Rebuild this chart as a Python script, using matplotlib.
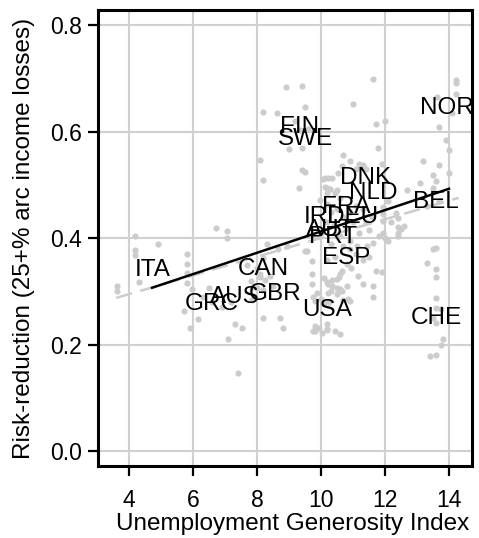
import matplotlib
matplotlib.use("Agg")
import matplotlib.pyplot as plt

plt.rcParams['font.family'] = ['Liberation Sans', 'DejaVu Sans']

# country means (label positions)
countries = ['NOR', 'FIN', 'SWE', 'DNK', 'NLD', 'BEL', 'FRA', 'DEU', 'IRL', 'AUT',
             'PRT', 'ESP', 'ITA', 'CAN', 'GBR', 'AUS', 'GRC', 'USA', 'CHE']
country_x = [13.94, 9.34, 9.5, 11.38, 11.63, 13.6, 10.8, 11.0, 10.05, 10.3,
             10.38, 10.8, 4.75, 8.2, 8.56, 7.3, 6.6, 10.2, 13.6]
country_y = [0.645, 0.61, 0.586, 0.513, 0.485, 0.468, 0.459, 0.44, 0.44, 0.416,
             0.402, 0.363, 0.34, 0.343, 0.296, 0.289, 0.276, 0.265, 0.25]

# country-year observations
pts_x = [4.19, 4.91, 4.19, 4.19, 5.81, 5.81, 5.81, 5.81, 4.31, 3.62, 3.62, 5.97, 6.5,
         5.72, 6.16, 5.91, 7.06, 6.72, 7.06, 7.09, 7.41, 7.31, 7.53, 6.9, 7.2, 6.3, 6.6,
         8.0, 8.19, 8.19, 8.0, 8.1, 8.19, 8.72, 8.81, 8.31, 8.66, 8.94, 7.7, 7.8, 8.4, 8.5,
         8.1, 8.25, 7.88, 7.84, 9.75,
         9.5, 9.72, 9.72, 9.72, 9.75, 9.88, 10.22, 10.22, 10.5, 10.5, 10.66, 10.8, 9.81,
         10.03, 10.19, 10.19, 10.59, 10.9, 10.9, 11.13, 11.44, 11.63, 11.72, 11.9, 11.63,
         11.63, 12.1, 12.4, 9.56,
         10.1, 10.2, 10.35, 10.55, 10.6, 10.35, 10.3, 10.5, 10.6, 10.65, 9.8, 10.0, 10.1,
         10.25, 10.7, 10.85, 9.8, 9.95, 10.2, 10.45,
         11.63, 14.22, 14.22, 14.22, 13.63, 8.9, 9.4, 9.5, 11.0, 8.19, 8.63, 12.0, 11.72,
         13.69, 9.19, 13.9, 14.0, 11.78, 10.69, 8.09, 9.4, 9.5, 8.19, 9.31, 11.3, 11.1,
         11.9, 13.19, 13.69, 14.0, 13.1, 13.5, 13.6, 13.5, 12.69, 10.66, 10.53, 10.06,
         10.22, 10.19, 10.19, 10.5, 11.94, 11.94, 11.94, 12.4, 12.4, 11.94, 11.8, 12.0,
         9.34, 9.6, 9.0, 9.4, 10.9, 10.13, 10.34, 10.13, 10.28, 11.2, 11.4, 10.44, 10.59,
         9.97, 10.19, 12.1, 12.5, 12.6, 12.4, 12.35, 12.2, 14.1, 13.3, 13.7,
         10.3, 10.5, 10.7, 10.9, 11.1, 11.3, 10.2, 10.4, 10.8, 11.0, 11.4, 11.6, 10.6,
         11.2, 10.0, 10.9, 11.5, 10.3, 10.7, 11.1, 11.3, 11.5, 10.45, 10.2, 10.95, 11.15,
         11.3, 10.8,
         13.3, 13.5, 13.6, 13.6, 13.6, 13.6, 13.6, 13.75, 13.5, 13.6, 13.8, 13.75, 13.4,
         13.6]
pts_y = [0.405, 0.39, 0.378, 0.369, 0.371, 0.352, 0.335, 0.316, 0.318, 0.311, 0.301,
         0.305, 0.307, 0.264, 0.249, 0.232, 0.40, 0.42, 0.414, 0.211, 0.147, 0.239, 0.232,
         0.27, 0.28, 0.29, 0.28,
         0.307, 0.302, 0.363, 0.345, 0.333, 0.25, 0.25, 0.232, 0.39, 0.38, 0.386, 0.35,
         0.32, 0.33, 0.31, 0.327, 0.321, 0.308, 0.284, 0.226,
         0.377, 0.358, 0.333, 0.314, 0.289, 0.298, 0.298, 0.314, 0.324, 0.296, 0.339,
         0.352, 0.226, 0.222, 0.239, 0.23, 0.22, 0.282, 0.38, 0.386, 0.386, 0.392, 0.339,
         0.337, 0.311, 0.29, 0.395, 0.405, 0.377,
         0.325, 0.318, 0.322, 0.328, 0.332, 0.31, 0.30, 0.306, 0.305, 0.30, 0.283, 0.286,
         0.278, 0.28, 0.284, 0.286, 0.235, 0.232, 0.228, 0.225,
         0.70, 0.697, 0.691, 0.672, 0.665, 0.684, 0.686, 0.646, 0.652, 0.637, 0.635, 0.621,
         0.614, 0.61, 0.621, 0.584, 0.565, 0.569, 0.557, 0.548, 0.529, 0.524, 0.51, 0.495,
         0.537, 0.531, 0.54, 0.546, 0.537, 0.522, 0.503, 0.518, 0.508, 0.495, 0.49, 0.535,
         0.522, 0.512, 0.514, 0.495, 0.486, 0.49, 0.458, 0.446, 0.433, 0.439, 0.422, 0.41,
         0.405, 0.40,
         0.603, 0.606, 0.567, 0.569, 0.546, 0.514, 0.514, 0.497, 0.493, 0.54, 0.531, 0.486,
         0.476, 0.471, 0.465, 0.47, 0.418, 0.424, 0.41, 0.448, 0.43, 0.635, 0.46, 0.47,
         0.45, 0.455, 0.44, 0.45, 0.46, 0.455, 0.43, 0.425, 0.42, 0.43, 0.43, 0.44, 0.405,
         0.41, 0.41, 0.395, 0.415, 0.39, 0.385, 0.37, 0.36, 0.365, 0.365, 0.36, 0.345,
         0.33, 0.315, 0.31,
         0.354, 0.38, 0.382, 0.343, 0.328, 0.288, 0.269, 0.267, 0.25, 0.24, 0.211, 0.20,
         0.179, 0.181]

# fitted lines: pooled (dashed grey) and between-country (black)
pooled_fit_x = [3.6, 14.3]
pooled_fit_y = [0.288, 0.476]
country_fit_x = [4.72, 14.0]
country_fit_y = [0.307, 0.493]

fig = plt.figure(figsize=(4.79, 5.38), dpi=100)
ax = fig.add_axes([0.2046, 0.1338, 0.7808, 0.8476])

ax.grid(True, color='#d0d0d0', linewidth=1.5, zorder=0)
ax.set_axisbelow(True)

ax.scatter(pts_x, pts_y, s=20, color='#cccccc', linewidths=0, zorder=2)
ax.plot(pooled_fit_x, pooled_fit_y, color='#cccccc', linewidth=1.8,
        dashes=(6.5, 3.5), zorder=3)
ax.plot(country_fit_x, country_fit_y, color='black', linewidth=1.8, zorder=4)

for name, x, y in zip(countries, country_x, country_y):
    ax.text(x, y, name, fontsize=17.5, ha='center', va='center', zorder=5)

ax.set_xlim(3.03, 14.72)
ax.set_ylim(-0.028, 0.829)
ax.set_xticks([4, 6, 8, 10, 12, 14])
ax.set_yticks([0.0, 0.2, 0.4, 0.6, 0.8])
ax.set_yticklabels(['0.0', '0.2', '0.4', '0.6', '0.8'])

for s in ax.spines.values():
    s.set_linewidth(2.2)
    s.set_color('black')

ax.tick_params(axis='both', length=7.5, width=1.6, labelsize=16.5, color='black')
ax.tick_params(axis='x', pad=9)
ax.tick_params(axis='y', pad=4)

ax.set_xlabel('Unemployment Generosity Index', fontsize=17.5)
ax.set_ylabel('Risk-reduction (25+% arc income losses)', fontsize=17.5, labelpad=11)
ax.xaxis.set_label_coords(0.52, -0.102)

fig.savefig('out.png', dpi=100)
